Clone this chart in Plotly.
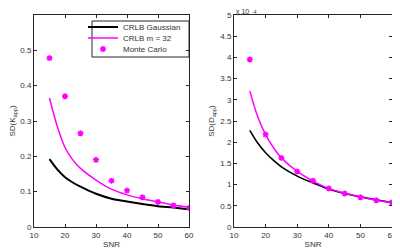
import plotly.graph_objects as go

# SNR grid for the analytic curves and for the Monte Carlo points
snr_curve = [15, 17.5, 20, 22.5, 25, 30, 35, 40, 45, 50, 55, 60]
snr_mc = [15, 20, 25, 30, 35, 40, 45, 50, 55, 60]

# Left panel: SD(K_app)
k_crlb_gauss = [0.192, 0.163, 0.141, 0.126, 0.114, 0.094, 0.080, 0.072, 0.065, 0.059, 0.055, 0.050]
k_crlb_m32 = [0.365, 0.285, 0.225, 0.190, 0.166, 0.133, 0.107, 0.091, 0.080, 0.071, 0.062, 0.056]
k_monte = [0.478, 0.370, 0.265, 0.190, 0.131, 0.103, 0.084, 0.071, 0.061, 0.054]

# Right panel: SD(D_app), in units of 1e-4
d_crlb_gauss = [2.28, 1.98, 1.75, 1.57, 1.42, 1.20, 1.04, 0.89, 0.79, 0.71, 0.64, 0.575]
d_crlb_m32 = [3.21, 2.60, 2.18, 1.87, 1.63, 1.31, 1.08, 0.905, 0.80, 0.71, 0.63, 0.58]
d_monte = [3.95, 2.18, 1.63, 1.31, 1.09, 0.91, 0.79, 0.70, 0.63, 0.58]

x_ticks = [10, 20, 30, 40, 50, 60]
k_ticks = [0, 0.1, 0.2, 0.3, 0.4, 0.5]
d_ticks = [0, 0.5, 1, 1.5, 2, 2.5, 3, 3.5, 4, 4.5, 5]
d_tick_text = ["0", "0.5", "1", "1.5", "2", "2.5", "3", "3.5", "4", "4.5", "5"]

BLACK = "#000000"
MAG = "#ff00ff"
TXT = "#333333"
AX = "#262626"
FONT = "Liberation Sans, Arial"

# the page body has an 8px margin, so the figure starts at (8, 8) in the window
OFF = 8
W, H = 400 - OFF, 252 - OFF
def px(v): return (v - OFF) / W
def py(v): return (252 - v) / H

fig = go.Figure()

marker = dict(symbol="asterisk-open", size=5, color=MAG, line=dict(color=MAG, width=1.5))

# left panel
fig.add_trace(go.Scatter(x=snr_curve, y=k_crlb_gauss, mode="lines",
                         line=dict(color=BLACK, width=2, shape="spline", smoothing=0.8),
                         name="CRLB Gaussian", legend="legend", xaxis="x", yaxis="y"))
fig.add_trace(go.Scatter(x=snr_curve, y=k_crlb_m32, mode="lines",
                         line=dict(color=MAG, width=1.5, shape="spline", smoothing=0.8),
                         name="CRLB m = 32", legend="legend2", xaxis="x", yaxis="y"))
fig.add_trace(go.Scatter(x=snr_mc, y=k_monte, mode="markers", marker=marker,
                         name="Monte Carlo", legend="legend3", xaxis="x", yaxis="y"))
# right panel
fig.add_trace(go.Scatter(x=snr_curve, y=d_crlb_gauss, mode="lines",
                         line=dict(color=BLACK, width=1.6, shape="spline", smoothing=0.8),
                         showlegend=False, xaxis="x2", yaxis="y2"))
fig.add_trace(go.Scatter(x=snr_curve, y=d_crlb_m32, mode="lines",
                         line=dict(color=MAG, width=1.5, shape="spline", smoothing=0.8),
                         showlegend=False, xaxis="x2", yaxis="y2"))
fig.add_trace(go.Scatter(x=snr_mc, y=d_monte, mode="markers", marker=marker,
                         showlegend=False, xaxis="x2", yaxis="y2"))

axcommon = dict(showline=True, linecolor=AX, linewidth=1, mirror="allticks", ticks="inside",
                ticklen=3, tickcolor=AX, showgrid=False, zeroline=False,
                tickfont=dict(family=FONT, size=8, color=TXT))

legend_base = dict(xanchor="left", yanchor="middle", x=px(83), bgcolor="rgba(0,0,0,0)",
                   borderwidth=0, font=dict(family=FONT, size=8, color=TXT), itemwidth=30)

fig.update_layout(
    width=W, height=H,
    margin=dict(l=0, r=0, t=0, b=0, autoexpand=False),
    paper_bgcolor="white", plot_bgcolor="white",
    font=dict(family=FONT, size=8, color=TXT),
    xaxis=dict(domain=[px(34), px(189)], range=[10, 60], tickvals=x_ticks, anchor="y",
               title=dict(text="SNR", standoff=2, font=dict(size=8)), **axcommon),
    yaxis=dict(domain=[py(227), py(15)], range=[0, 0.6], tickvals=k_ticks, anchor="x",
               title=dict(text="SD(K<sub>app</sub>)", standoff=4, font=dict(size=8)), **axcommon),
    xaxis2=dict(domain=[px(234), px(392)], range=[10, 60], tickvals=x_ticks, anchor="y2",
                title=dict(text="SNR", standoff=2, font=dict(size=8)), **axcommon),
    yaxis2=dict(domain=[py(227), py(15)], range=[0, 5], tickvals=d_ticks, ticktext=d_tick_text,
                anchor="x2",
                title=dict(text="SD(D<sub>app</sub>)", standoff=4, font=dict(size=8)), **axcommon),
    legend=dict(y=py(27), **legend_base),
    legend2=dict(y=py(38), **legend_base),
    legend3=dict(y=py(49), **legend_base),
    shapes=[dict(type="rect", xref="paper", yref="paper", x0=px(92), x1=px(189),
                 y0=py(57), y1=py(21), line=dict(color=AX, width=1), fillcolor="white", layer="below")],
    annotations=[
        dict(text="x 10", x=px(235), y=py(16), xref="paper", yref="paper",
             xanchor="left", yanchor="bottom", showarrow=False, borderpad=0,
             font=dict(family=FONT, size=7, color=TXT)),
        dict(text="-4", x=px(251), y=1, xref="paper", yref="paper",
             xanchor="left", yanchor="top", showarrow=False, borderpad=0,
             font=dict(family=FONT, size=5, color=TXT)),
    ],
)

fig.write_html("out.html")
